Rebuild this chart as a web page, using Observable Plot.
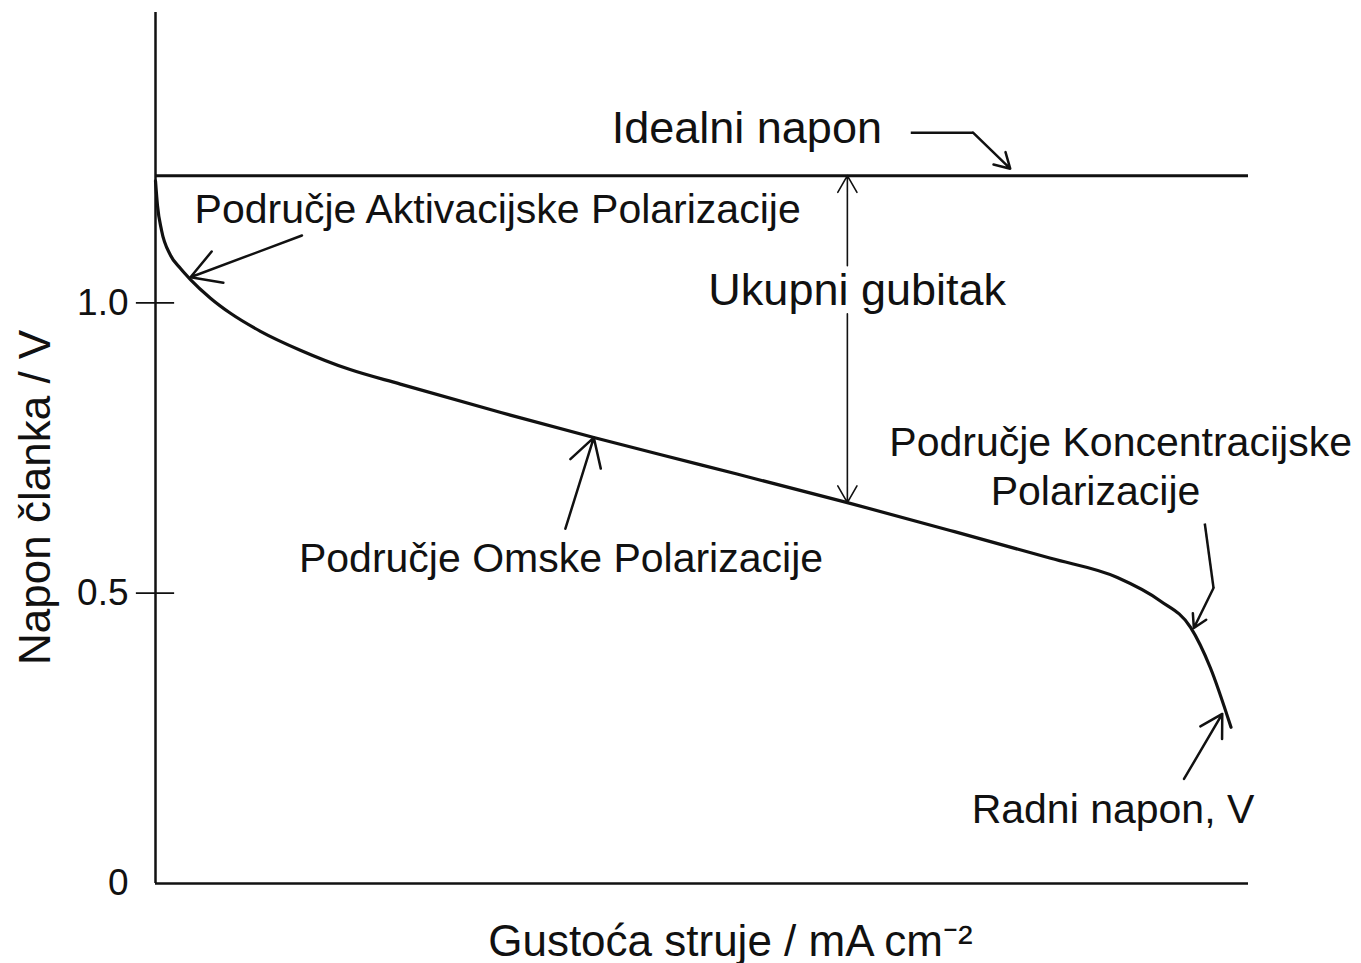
<!DOCTYPE html>
<html>
<head>
<meta charset="utf-8">
<script src="https://cdn.jsdelivr.net/npm/d3@7"></script>
<script src="https://cdn.jsdelivr.net/npm/@observablehq/plot@0.6"></script>
<style>
  html, body { margin: 0; padding: 0; background: #fff; }
  #chart svg { display: block; }
</style>
</head>
<body>
<div id="chart"></div>
<script>
// Polarization curve (arbitrary current-density units 0..100, voltage in V)
const current = [0, 0.18, 0.55, 1.37, 2.29, 3.2, 5.03, 6.86, 9.6, 13.3, 17.8, 22.4, 31.6, 40.1, 49.9, 63.3, 72.7, 81.9, 88.0, 91.9, 94.7, 96.5, 98.4];
const voltage = [1.21, 1.168, 1.125, 1.082, 1.059, 1.040, 1.008, 0.982, 0.951, 0.918, 0.885, 0.860, 0.811, 0.768, 0.721, 0.656, 0.608, 0.560, 0.527, 0.487, 0.441, 0.372, 0.269];
const idealVoltage = 1.219;
const yTicks = [0, 0.5, 1.0];
const yTickLabels = ["0", "0.5", "1.0"];

// Annotation labels (data coordinates, baseline)
const labelText = ["Idealni napon", "Područje Aktivacijske Polarizacije", "Ukupni gubitak", "Područje Koncentracijske", "Polarizacije", "Područje Omske Polarizacije", "Radni napon, V"];
const labelX = [54.1, 31.3, 64.2, 88.3, 86.0, 37.1, 87.6];
const labelY = [1.276, 1.138, 0.996, 0.737, 0.651, 0.536, 0.105];
const labelSize = [45, 41, 45, 41, 41, 41, 41];

// Arrows (tail -> head)
const arrowX1 = [37.5, 13.4, 96.8, 94.1, 74.8];
const arrowY1 = [0.611, 1.116, 0.509, 0.180, 1.293];
const arrowX2 = [40.1, 3.2, 95.0, 97.6, 78.2];
const arrowY2 = [0.768, 1.044, 0.440, 0.292, 1.231];
// Leader segments feeding into arrows
const leadX1 = [69.1, 96.0];
const leadY1 = [1.293, 0.620];
const leadX2 = [74.8, 96.8];
const leadY2 = [1.293, 0.509];
// "Ukupni gubitak" double arrow
const lossX = 63.3;
const lossY1 = [1.064, 0.981];
const lossY2 = [idealVoltage, 0.656];

const xLabel = "Gustoća struje / mA cm⁻²";
const yLabel = "Napon članka / V";

const curve = current.map((c, i) => ({x: c, y: voltage[i]}));
const labels = labelText.map((t, i) => ({t, x: labelX[i], y: labelY[i], s: labelSize[i]}));
const arrows = arrowX1.map((x, i) => ({x1: x, y1: arrowY1[i], x2: arrowX2[i], y2: arrowY2[i]}));
const leads = leadX1.map((x, i) => ({x1: x, y1: leadY1[i], x2: leadX2[i], y2: leadY2[i]}));
const loss = lossY1.map((y, i) => ({x: lossX, y1: y, y2: lossY2[i]}));
const ticks = yTicks.map((v, i) => ({v, t: yTickLabels[i]}));

const font = "Liberation Sans, Arial, Helvetica, sans-serif";

const chart = Plot.plot({
  width: 1361,
  height: 963,
  marginLeft: 155,
  marginRight: 113,
  marginTop: 12,
  marginBottom: 80,
  style: {fontFamily: font, background: "#fff", color: "#111"},
  x: {domain: [0, 100], axis: null},
  y: {domain: [0, 1.5], axis: null},
  marks: [
    // axes
    Plot.ruleX([0], {y1: 0, y2: 1.5, stroke: "#111", strokeWidth: 2.5}),
    Plot.ruleY([0], {x1: 0, x2: 100, stroke: "#111", strokeWidth: 2.5}),
    Plot.ruleY(yTicks.filter(v => v > 0), {y: d => d, x1: -1.75, x2: 1.75, stroke: "#111", strokeWidth: 1.8}),
    Plot.text(ticks, {x: 0, y: "v", text: "t", dx: -27, textAnchor: "end", lineAnchor: "middle", fontSize: 37, fill: "#111"}),
    Plot.text([yLabel], {x: 0, y: 0.665, dx: -120, rotate: -90, fontSize: 44, fill: "#111", lineAnchor: "middle"}),
    Plot.text([xLabel], {x: 52.6, y: 0, dy: 72, fontSize: 44, fill: "#111", lineAnchor: "bottom"}),
    // ideal voltage
    Plot.ruleY([idealVoltage], {x1: 0, x2: 100, stroke: "#111", strokeWidth: 3}),
    // polarization curve
    Plot.line(curve, {x: "x", y: "y", curve: "monotone-x", stroke: "#111", strokeWidth: 3.2}),
    // total loss double arrow
    Plot.arrow(loss, {x1: "x", x2: "x", y1: "y1", y2: "y2", stroke: "#111", strokeWidth: 1.6, headLength: 18}),
    // leader segments & arrows
    Plot.link(leads, {x1: "x1", y1: "y1", x2: "x2", y2: "y2", stroke: "#111", strokeWidth: 2.5}),
    Plot.arrow(arrows, {x1: "x1", y1: "y1", x2: "x2", y2: "y2", stroke: "#111", strokeWidth: 2.5, headLength: 20}),
    // annotation labels
    Plot.text(labels, {x: "x", y: "y", text: "t", fontSize: "s", textAnchor: "middle", lineAnchor: "bottom", fill: "#111"})
  ]
});
document.getElementById("chart").appendChild(chart);
</script>
</body>
</html>
